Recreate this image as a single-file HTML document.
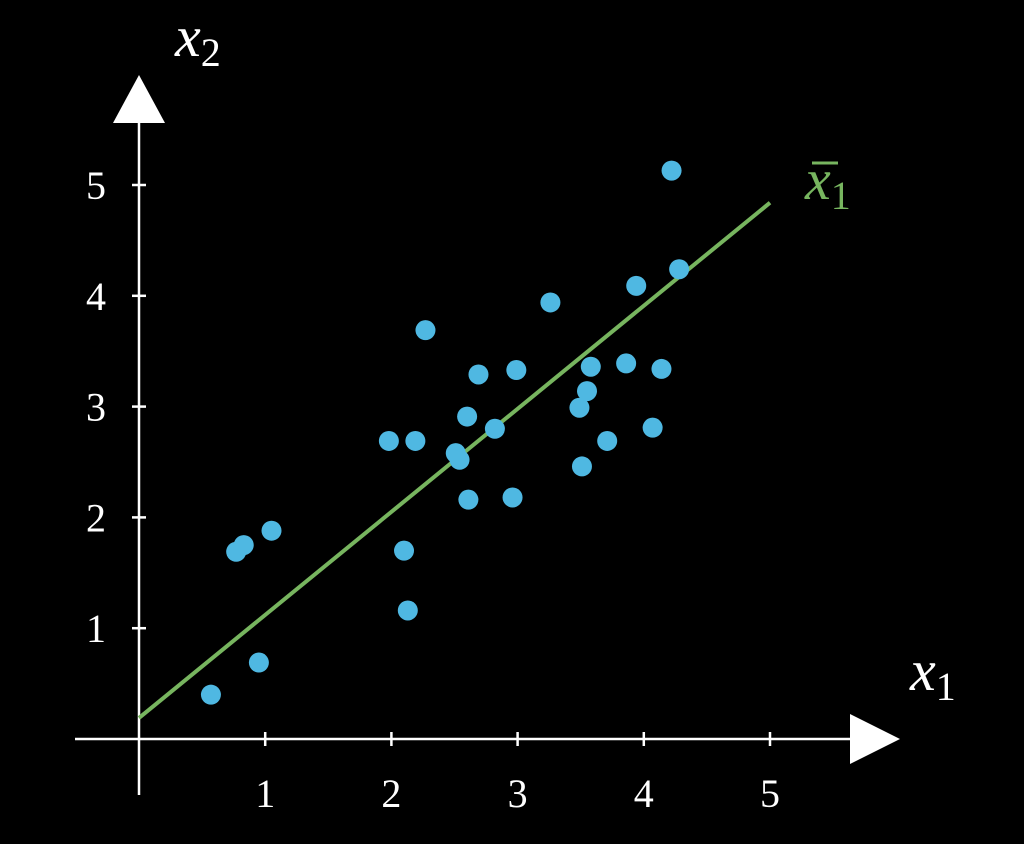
<!DOCTYPE html>
<html><head><meta charset="utf-8"><style>
html,body{margin:0;padding:0;background:#000;}
svg{display:block;}
text{font-family:"Liberation Serif","DejaVu Serif",serif;fill:#fff;}
</style></head><body>
<svg id="chart" width="1024" height="844" viewBox="0 0 1024 844">
<rect width="1024" height="844" fill="#000"/>
<g id="axes"></g>
<g id="line"></g>
<g id="points"></g>
</svg>
<script>
const xs=[0.57,0.77,0.83,1.05,0.95,1.98,2.19,2.27,2.10,2.13,2.51,2.54,2.60,2.61,2.69,2.82,2.96,2.99,3.26,3.49,3.51,3.55,3.58,3.71,3.86,3.94,4.07,4.14,4.22,4.28];
const ys=[0.40,1.69,1.75,1.88,0.69,2.69,2.69,3.69,1.70,1.16,2.58,2.52,2.91,2.16,3.29,2.80,2.18,3.33,3.94,2.99,2.46,3.14,3.36,2.69,3.39,4.09,2.81,3.34,5.13,4.24];
const lineX=[0,5];
const lineY=[0.19,4.84];
const xTicks=[1,2,3,4,5];
const yTicks=[1,2,3,4,5];
const NS='http://www.w3.org/2000/svg';
const X=v=>139+v*126.2, Y=v=>739-v*110.8;
function mk(tag,attrs,parent){const e=document.createElementNS(NS,tag);for(const k in attrs)e.setAttribute(k,attrs[k]);parent.appendChild(e);return e;}
const ax=document.getElementById('axes');
let e;
e=mk('line',{x1:75,y1:739,x2:855,y2:739,stroke:'#fff','stroke-width':2.5},ax);


e=mk('polygon',{points:'850,714 900,739 850,764',fill:'#fff'},ax);


e=mk('line',{x1:139,y1:795,x2:139,y2:118,stroke:'#fff','stroke-width':2.5},ax);


e=mk('polygon',{points:'113,123 139,75 165,123',fill:'#fff'},ax);


xTicks.forEach(t=>{
 e=mk('line',{x1:X(t),y1:732,x2:X(t),y2:746,stroke:'#fff','stroke-width':2.5},ax);
 
 
 e=mk('text',{x:X(t),y:807,'font-size':40,'text-anchor':'middle'},ax);e.textContent=t;
 
 
});
yTicks.forEach(t=>{
 e=mk('line',{x1:132,y1:Y(t),x2:146,y2:Y(t),stroke:'#fff','stroke-width':2.5},ax);
 
 
 e=mk('text',{x:106,y:Y(t)+14,'font-size':40,'text-anchor':'end'},ax);e.textContent=t;
 
 
});
e=mk('text',{x:175,y:56,'font-size':58,'font-style':'italic'},ax);e.innerHTML='x<tspan font-size="40" font-style="normal" dy="10">2</tspan>';


e=mk('text',{x:910,y:690,'font-size':58,'font-style':'italic'},ax);e.innerHTML='x<tspan font-size="40" font-style="normal" dy="10">1</tspan>';


const lg=document.getElementById('line');
e=mk('line',{x1:X(lineX[0]),y1:Y(lineY[0]),x2:X(lineX[1]),y2:Y(lineY[1]),stroke:'#77b55f','stroke-width':4},lg);


e=mk('text',{x:805,y:199,'font-size':58,'font-style':'italic',style:'fill:#77b55f'},lg);e.innerHTML='x<tspan font-size="40" font-style="normal" dy="10">1</tspan>';


e=mk('line',{x1:812,y1:163,x2:838,y2:163,stroke:'#77b55f','stroke-width':3},lg);


const pg=document.getElementById('points');
xs.forEach((v,i)=>{
 e=mk('circle',{cx:X(v),cy:Y(ys[i]),r:10,fill:'#4fb8e2'},pg);
 
 
});
</script>
</body></html>
